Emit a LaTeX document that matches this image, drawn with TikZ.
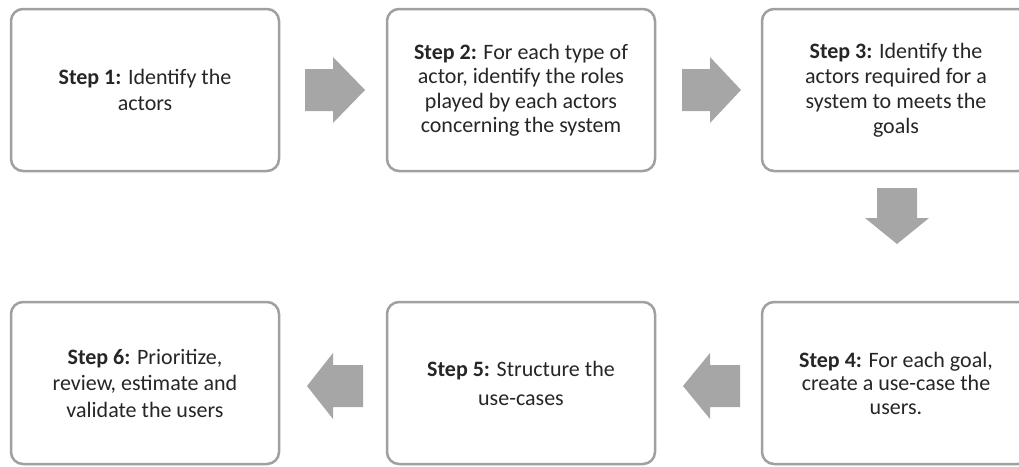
\documentclass[tikz,border=0pt]{standalone}
\usepackage{fontspec}
\setmainfont{Carlito}
\definecolor{boxline}{HTML}{A0A0A0}
\definecolor{arrowfill}{HTML}{A6A6A6}
\definecolor{txt}{HTML}{262626}
\begin{document}
\begin{tikzpicture}[x=1pt,y=-1pt,
  stepbox/.style={draw=boxline, line width=2.5pt, rounded corners=12pt, fill=white,
    minimum width=268pt, minimum height=162pt, inner sep=0pt, align=center,
    text=txt, font=\fontsize{22}{26}\selectfont},
  blockarrow/.style={fill=arrowfill, draw=none}
]
\useasboundingbox (0,0) rectangle (1019,466);
\begin{scope}
\clip (0,0) rectangle (1019,466);
\node[stepbox] (s1) at (145,90) {\textbf{Step 1:} Identify the\\actors};
\node[stepbox, font=\fontsize{22}{24.5}\selectfont] (s2) at (521,90) {\textbf{Step 2:} For each type of\\actor, identify the roles\\played by each actors\\concerning the system};
\node[stepbox, font=\fontsize{22}{25}\selectfont] (s3) at (896,90) {\textbf{Step 3:} Identify the\\actors required for a\\system to meets the\\goals};
\node[stepbox, font=\fontsize{22}{23.5}\selectfont] (s4) at (896,383) {\textbf{Step 4:} For each goal,\\create a use-case the\\users.};
\node[stepbox, font=\fontsize{22}{29}\selectfont] (s5) at (521,383) {\textbf{Step 5:} Structure the\\use-cases};
\node[stepbox, font=\fontsize{22}{26.5}\selectfont] (s6) at (145,383) {\textbf{Step 6:} Prioritize,\\review, estimate and\\validate the users};
\end{scope}
% right arrows
\fill[blockarrow] (305,69) -- (333,69) -- (333,57) -- (365,90) -- (333,123) -- (333,111) -- (305,111) -- cycle;
\fill[blockarrow] (682,69) -- (710,69) -- (710,57) -- (741,90) -- (710,123) -- (710,111) -- (682,111) -- cycle;
% down arrow
\fill[blockarrow] (877,188) -- (917,188) -- (917,218) -- (929,218) -- (897,244) -- (865,218) -- (877,218) -- cycle;
% left arrows
\fill[blockarrow] (740,365) -- (710,365) -- (710,353) -- (683,386) -- (710,419) -- (710,407) -- (740,407) -- cycle;
\fill[blockarrow] (363,365) -- (333,365) -- (333,353) -- (307,386) -- (333,419) -- (333,407) -- (363,407) -- cycle;
\end{tikzpicture}
\end{document}
